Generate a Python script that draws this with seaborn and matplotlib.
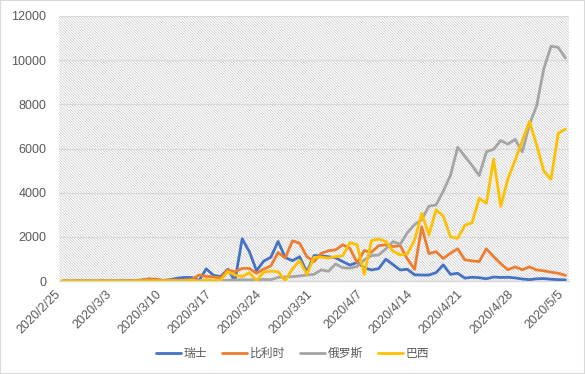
import matplotlib
matplotlib.use("Agg")
import matplotlib.pyplot as plt
import numpy as np
import pandas as pd
import seaborn as sns
from matplotlib.patches import Rectangle

# daily new cases, 2020/2/25 .. 2020/5/5
start_date = "2020-02-25"
countries = ["瑞士", "比利时", "俄罗斯", "巴西"]
colors = ["#4472C4", "#ED7D31", "#A5A5A5", "#FFC000"]

swiss = [
    1, 0, 7, 0, 8, 0, 6, 12, 6, 20,
    0, 30, 90, 40, 20, 60, 130, 160, 155, 20,
    550, 260, 200, 530, 10, 1910, 1330, 470, 900, 1080,
    1790, 1060, 920, 1100, 400, 1150, 1140, 1100, 1050, 880,
    720, 840, 600, 500, 560, 990, 740, 500, 530, 280,
    270, 270, 380, 730, 300, 350, 130, 170, 150, 100,
    180, 160, 170, 140, 90, 60, 100, 110, 80, 60,
    50,
]
belgium = [
    0, 0, 0, 0, 0, 0, 0, 2, 6, 5,
    20, 50, 90, 85, 30, 47, 45, 30, 80, 270,
    210, 190, 130, 500, 420, 570, 570, 350, 540, 690,
    1290, 1040, 1820, 1710, 1100, 880, 1250, 1370, 1410, 1640,
    1480, 830, 1380, 1300, 1600, 1640, 1560, 1600, 1000, 530,
    2454, 1240, 1330, 1020, 1260, 1460, 960, 910, 880, 1460,
    1100, 780, 510, 640, 510, 640, 500, 460, 400, 350,
    250,
]
russia = [
    0, 0, 0, 0, 0, 0, 0, 1, 0, 0,
    1, 0, 3, 0, 3, 3, 8, 0, 19, 0,
    39, 30, 21, 33, 52, 54, 53, 61, 71, 57,
    163, 182, 196, 228, 270, 302, 501, 440, 771, 601,
    582, 658, 954, 1154, 1175, 1459, 1786, 1667, 2186, 2558,
    2774, 3388, 3448, 4070, 4785, 6060, 5642, 5236, 4774, 5849,
    5966, 6361, 6198, 6411, 5841, 7099, 7933, 9623, 10633, 10581,
    10102,
]
brazil = [
    0, 1, 0, 0, 0, 0, 0, 1, 0, 0,
    0, 5, 0, 5, 6, 12, 0, 21, 30, 0,
    60, 30, 50, 420, 270, 200, 380, 20, 400, 450,
    420, 15, 550, 920, 300, 1070, 1080, 1040, 1100, 1140,
    1740, 1640, 300, 1830, 1900, 1790, 1350, 1180, 1230, 1850,
    3060, 2090, 3230, 2940, 2000, 1930, 2520, 2640, 3740, 3520,
    5510, 3380, 4630, 5460, 6350, 7220, 6150, 4970, 4610, 6690,
    6880,
]
y_ticks = [0, 2000, 4000, 6000, 8000, 10000, 12000]

series = [swiss, belgium, russia, brazil]
dates = pd.date_range(start_date, periods=len(swiss))
df = pd.concat(
    [pd.DataFrame({"day": np.arange(len(v)), "cases": v, "country": c})
     for c, v in zip(countries, series)],
    ignore_index=True,
)

sns.set_style("white")
plt.rcParams["font.family"] = ["Liberation Sans", "Noto Sans CJK SC"]
plt.rcParams["hatch.linewidth"] = 0.45
text_color = "#595959"
grid_color = "#d9d9d9"

fig = plt.figure(figsize=(5.85, 3.74), dpi=100)
ax = fig.add_axes([59 / 585, 1 - 281 / 374, 510 / 585, 265 / 374])

# hatched plot area like the Excel pattern fill
ax.add_patch(Rectangle((0, 0), 1, 1, transform=ax.transAxes, facecolor="white",
                       edgecolor="#c4c4c4", hatch="\\" * 12, lw=0, zorder=0))

sns.lineplot(data=df, x="day", y="cases", hue="country", hue_order=countries,
             palette=colors, linewidth=2, ax=ax, zorder=3)

ax.set_xlim(-0.5, len(swiss) - 0.5)
ax.set_ylim(0, 12000)
ax.set_yticks(y_ticks)
ax.set_yticklabels([str(t) for t in y_ticks])
tick_pos = np.arange(0, len(swiss), 7)
ax.set_xticks(tick_pos - 0.5)
ax.set_xticklabels([f"{d.year}/{d.month}/{d.day}" for d in dates[tick_pos]],
                   rotation=45, ha="right", va="center", rotation_mode="anchor")
ax.set_xlabel("")
ax.set_ylabel("")

ax.yaxis.grid(True, color=grid_color, lw=0.9)
ax.set_axisbelow(True)
for side in ["left", "right", "top"]:
    ax.spines[side].set_visible(False)
ax.spines["bottom"].set_color(grid_color)
ax.spines["bottom"].set_linewidth(1)
ax.tick_params(axis="x", length=5, color=grid_color, labelsize=9,
               labelcolor=text_color, pad=3)
ax.tick_params(axis="y", length=0, labelsize=9, labelcolor=text_color, pad=9)

ax.legend(loc="center", bbox_to_anchor=(0.5, 1 - 354 / 374), bbox_transform=fig.transFigure,
          ncol=4, frameon=False, fontsize=8.5, handlelength=2.1, columnspacing=1.3,
          handletextpad=0.2, labelcolor=text_color)

fig.patches.append(Rectangle((0, 0), 1, 1, transform=fig.transFigure, fill=False,
                             edgecolor=grid_color, lw=1.5))

fig.savefig("out.png", dpi=100)
